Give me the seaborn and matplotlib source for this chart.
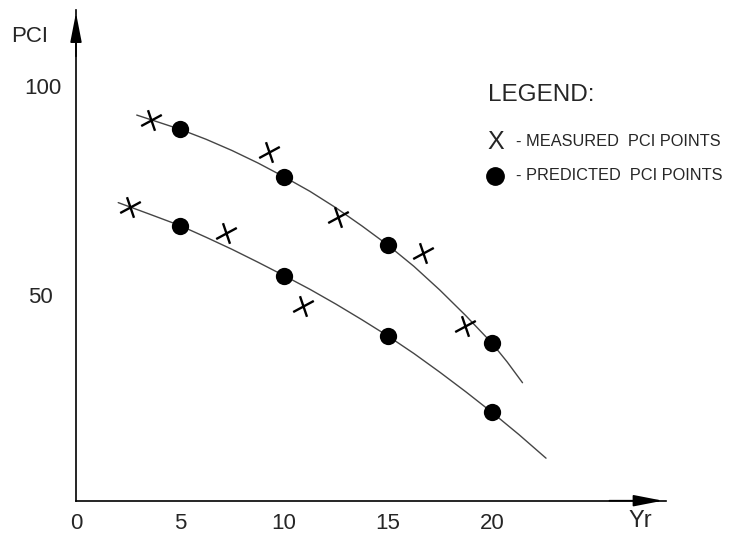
"""PCI deterioration curves: measured vs predicted points over time."""

import matplotlib

matplotlib.use("Agg")
import matplotlib.pyplot as plt
import seaborn as sns
from matplotlib.lines import Line2D
from matplotlib.path import Path
from matplotlib.transforms import ScaledTranslation

# predicted points (filled circles)
pred_years = [5, 10, 15, 20]
pred_upper = [89.7, 78.3, 61.9, 38.4]
pred_lower = [66.6, 54.6, 40.1, 21.8]

# measured points (crosses)
meas_years = [3.6, 9.3, 12.6, 16.7, 18.7, 2.6, 7.2, 10.9]
meas_pci = [91.9, 84.3, 68.7, 60.1, 42.5, 71.0, 64.9, 47.3]

# smooth curves
curve_up_x = [2.92, 3.96, 5, 6.25, 7.5, 8.75, 10, 11.25, 12.5, 13.75, 15,
              16.25, 17.5, 18.75, 20, 20.73, 21.47]
curve_up_y = [93.1, 91.4, 89.7, 87.3, 84.6, 81.6, 78.3, 74.8, 70.85, 66.5, 61.9,
              56.8, 51.1, 44.95, 38.4, 33.9, 28.9]
curve_lo_x = [2.03, 3.5, 5, 6.25, 7.5, 8.75, 10, 11.25, 12.5, 13.75, 15,
              16.25, 17.5, 18.75, 20, 21.3, 22.6]
curve_lo_y = [72.1, 69.4, 66.6, 63.8, 60.9, 57.8, 54.6, 51.3, 47.75, 44.0, 40.1,
              35.9, 31.4, 26.7, 21.8, 16.45, 10.8]

y_ticks = list(range(10, 101, 10))
y_labels = ["50" if t == 50 else "100" if t == 100 else "" for t in y_ticks]
x_ticks = [0, 5, 10, 15, 20]

W, H = 732, 540

sns.set_style("white")
plt.rcParams["font.family"] = ["Liberation Sans", "DejaVu Sans"]


def fx(px):
    return px / W


def fy(py):
    return 1 - py / H


# slanted hand-drawn style cross
cross = Path(
    [(-0.5, -0.27), (0.5, 0.27), (-0.17, 0.5), (0.17, -0.5)],
    [Path.MOVETO, Path.LINETO, Path.MOVETO, Path.LINETO],
)

fig = plt.figure(figsize=(W / 100, H / 100), dpi=100)
ax = fig.add_axes([fx(76), 39.3 / H, 589.6 / W, 490.7 / H])

sns.lineplot(x=curve_up_x, y=curve_up_y, sort=False, color="#454545", lw=1.0, ax=ax)
sns.lineplot(x=curve_lo_x, y=curve_lo_y, sort=False, color="#454545", lw=1.0, ax=ax)
sns.scatterplot(
    x=pred_years + pred_years,
    y=pred_upper + pred_lower,
    color="black",
    s=155,
    linewidth=0,
    ax=ax,
    zorder=3,
)
sns.scatterplot(
    x=meas_years,
    y=meas_pci,
    marker=cross,
    s=220,
    color="black",
    edgecolor="black",
    linewidth=1.7,
    ax=ax,
    zorder=3,
)

ax.set_xlim(0, 28.35)
ax.set_ylim(0.6, 118.3)
ax.set_yticks(y_ticks)
ax.set_yticklabels(y_labels)
ax.set_xticks(x_ticks)
ax.set_xticklabels([str(t) for t in x_ticks])
ax.tick_params(axis="y", direction="out", length=5, width=1, pad=5.5, labelsize=16)
ax.tick_params(axis="x", direction="in", length=5, width=1, pad=9, labelsize=16)
# the "50" label sits a little further left than "100"
for lab in ax.get_yticklabels():
    if lab.get_text() == "50":
        lab.set_transform(lab.get_transform() + ScaledTranslation(-9 / 100, 0, fig.dpi_scale_trans))
for side in ["top", "right"]:
    ax.spines[side].set_visible(False)
for side in ["left", "bottom"]:
    ax.spines[side].set_color("black")
    ax.spines[side].set_linewidth(1.2)

# axis arrows
arrow = dict(arrowstyle="-|>,head_length=1.8,head_width=0.35", color="black", lw=1.2)
ax.annotate("", xy=(1, 0), xytext=(0.9, 0), xycoords="axes fraction", arrowprops=arrow)
ax.annotate("", xy=(0, 1), xytext=(0, 0.9), xycoords="axes fraction", arrowprops=arrow)

fig.text(fx(30), fy(36), "PCI", fontsize=16, ha="center", va="center")
fig.text(fx(640), fy(521), "Yr", fontsize=17, ha="center", va="center")

# legend block
fig.text(fx(488), fy(95), "LEGEND:", fontsize=17.5, ha="left", va="center")
fig.text(fx(487), fy(142), "X", fontsize=18, ha="left", va="center")
fig.text(fx(516), fy(142), "- MEASURED  PCI POINTS", fontsize=11.8, ha="left", va="center")
fig.add_artist(
    Line2D([fx(495)], [fy(176)], marker="o", markersize=12.5, color="black",
           transform=fig.transFigure)
)
fig.text(fx(516), fy(176), "- PREDICTED  PCI POINTS", fontsize=11.8, ha="left", va="center")

fig.savefig("out.png", dpi=100)
